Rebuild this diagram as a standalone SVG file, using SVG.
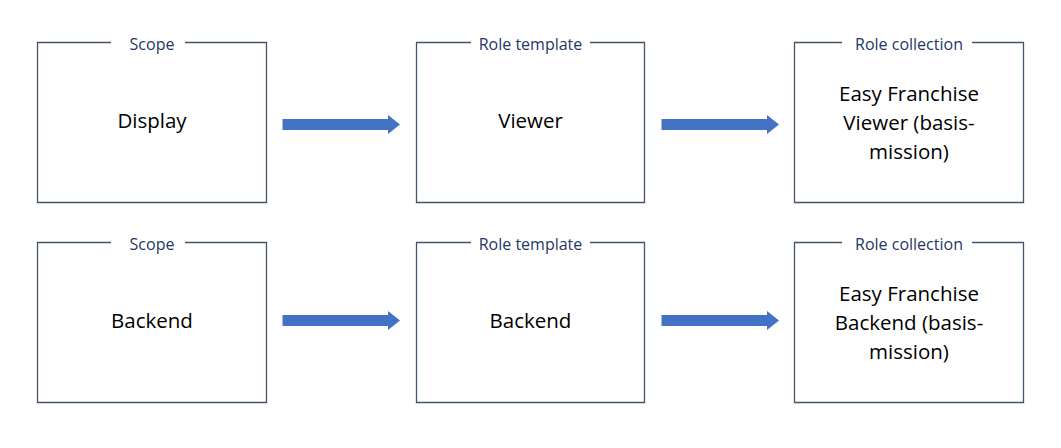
<svg xmlns="http://www.w3.org/2000/svg" width="1061" height="448" viewBox="0 0 1061 448">
  <style>
    .frame { fill: none; stroke: #44546a; stroke-width: 1.3; }
    .tag { font-family: "Open Sans", "Noto Sans", sans-serif; font-size: 16px; fill: #1f3864; text-anchor: middle; }
    .main { font-family: "Open Sans", "Noto Sans", sans-serif; font-size: 20.5px; fill: #000; text-anchor: middle; }
    .arrow { fill: #4472c4; }
  </style>
  <defs>
    <!-- block arrow, drawn from its tail at (0,0) -->
    <path id="blockArrow" d="M0,-5.5 H105.5 V-9.5 L117.5,0 L105.5,9.5 V5.5 H0 Z"/>
  </defs>

  <rect width="1061" height="448" fill="#fff"/>

  <!-- row 1 -->
  <g id="scope-display">
    <path class="frame" d="M111,42.5 H37.5 V202.5 H266.5 V42.5 H185"/>
    <text class="tag" x="152" y="50">Scope</text>
    <text class="main" x="152" y="128">Display</text>
  </g>
  <g id="template-viewer">
    <path class="frame" d="M471,42.5 H416.5 V202.5 H644.5 V42.5 H590"/>
    <text class="tag" x="530.5" y="50">Role template</text>
    <text class="main" x="530.5" y="128">Viewer</text>
  </g>
  <g id="collection-viewer">
    <path class="frame" d="M842,42.5 H794.5 V202.5 H1023.5 V42.5 H972"/>
    <text class="tag" x="909" y="50">Role collection</text>
    <text class="main" x="909" y="101">Easy Franchise</text>
    <text class="main" x="909" y="130">Viewer (basis-</text>
    <text class="main" x="909" y="159">mission)</text>
  </g>

  <!-- row 2 -->
  <g id="scope-backend">
    <path class="frame" d="M111,242.5 H37.5 V402.5 H266.5 V242.5 H185"/>
    <text class="tag" x="152" y="250">Scope</text>
    <text class="main" x="152" y="328">Backend</text>
  </g>
  <g id="template-backend">
    <path class="frame" d="M471,242.5 H416.5 V402.5 H644.5 V242.5 H590"/>
    <text class="tag" x="530.5" y="250">Role template</text>
    <text class="main" x="530.5" y="328">Backend</text>
  </g>
  <g id="collection-backend">
    <path class="frame" d="M842,242.5 H794.5 V402.5 H1023.5 V242.5 H972"/>
    <text class="tag" x="909" y="250">Role collection</text>
    <text class="main" x="909" y="301">Easy Franchise</text>
    <text class="main" x="909" y="330">Backend (basis-</text>
    <text class="main" x="909" y="359">mission)</text>
  </g>

  <!-- connectors -->
  <g id="connectors" class="arrow">
    <use href="#blockArrow" x="282.5" y="124.5"/>
    <use href="#blockArrow" x="661.5" y="124.5"/>
    <use href="#blockArrow" x="282.5" y="320.5"/>
    <use href="#blockArrow" x="661.5" y="320.5"/>
  </g>
</svg>
